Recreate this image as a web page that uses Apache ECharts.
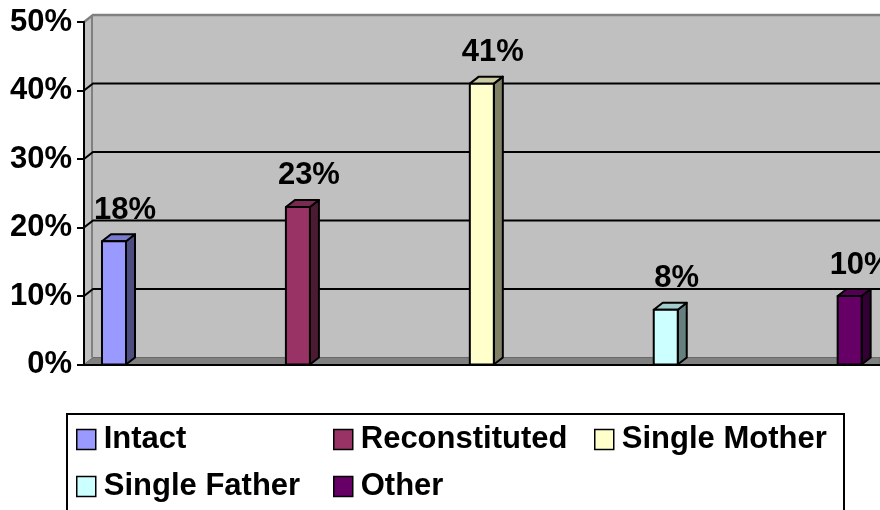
<!DOCTYPE html>
<html>
<head>
<meta charset="utf-8">
<script src="https://cdn.jsdelivr.net/npm/echarts@6/dist/echarts.min.js"></script>
<style>
html,body{margin:0;padding:0;background:#fff;}
#chart{width:880px;height:510px;}
</style>
</head>
<body>
<div id="chart"></div>
<script>
// ---- data ----
const categories = ['Intact', 'Reconstituted', 'Single Mother', 'Single Father', 'Other'];
const values = [18, 23, 41, 8, 10];
const yTicks = [0, 10, 20, 30, 40, 50];

// ---- styles ----
const FONT = '"Liberation Sans", Arial, Helvetica, sans-serif';
const FS = 31;
const frontColors = ['#9999FF', '#993366', '#FFFFCC', '#CCFFFF', '#660066'];
const sideColors  = ['#4D4D80', '#4D1A33', '#808066', '#668080', '#330033'];
const topColors   = ['#7A7ACC', '#7A2952', '#CCCCA3', '#A3CCCC', '#520052'];
const DX = 9, DY = 7, HW = 12;

const chart = echarts.init(document.getElementById('chart'));

function wallItem(params, api) {
  const v = api.value(1);
  const cs = params.coordSys;
  const right = cs.x + cs.width;
  const p = api.coord([api.value(0), v]);
  const x0 = cs.x;
  const children = [];
  const maxV = yTicks[yTicks.length - 1];
  if (v === maxV) {
    const base = api.coord([api.value(0), 0]);
    children.push({type: 'polygon', shape: {points: [[x0, p[1]], [x0 + DX, p[1] - DY], [right, p[1] - DY], [right, base[1]], [x0, base[1]]]},
      style: {fill: '#C0C0C0'}});
    children.push({type: 'polyline', shape: {points: [[x0, p[1]], [x0 + DX, p[1] - DY], [right, p[1] - DY]]},
      style: {stroke: '#808080', lineWidth: 2.5, fill: null}});
    children.push({type: 'line', shape: {x1: x0 + DX - 1, y1: p[1] - DY, x2: x0 + DX - 1, y2: base[1] - DY},
      style: {stroke: '#808080', lineWidth: 2}});
  } else if (v === 0) {
    children.push({type: 'polygon', shape: {points: [[x0, p[1]], [x0 + DX, p[1] - DY], [right, p[1] - DY], [right, p[1]]]},
      style: {fill: '#808080', stroke: '#6a6a6a', lineWidth: 1}});
  } else {
    children.push({type: 'polyline', shape: {points: [[x0, p[1]], [x0 + DX, p[1] - DY], [right, p[1] - DY]]},
      style: {stroke: '#000', lineWidth: 2, fill: null}});
  }
  return {type: 'group', children: children};
}

function barItem(idx) {
  return function (params, api) {
    const x = api.value(0), v = api.value(1);
    const top = api.coord([x, v]);
    const base = api.coord([x, 0]);
    const L = top[0] - HW, R = top[0] + HW, T = top[1], B = base[1];
    const bs = {stroke: '#000', lineWidth: 2, lineJoin: 'round'};
    return {type: 'group', children: [
      {type: 'polygon', shape: {points: [[R, T], [R + DX, T - DY], [R + DX, B - DY], [R, B]]},
        style: Object.assign({fill: sideColors[idx]}, bs)},
      {type: 'polygon', shape: {points: [[L, T], [L + DX, T - DY], [R + DX, T - DY], [R, T]]},
        style: Object.assign({fill: topColors[idx]}, bs)},
      {type: 'rect', shape: {x: L, y: T, width: 2 * HW, height: B - T},
        style: Object.assign({fill: frontColors[idx]}, bs)},
      {type: 'text', style: {text: v + '%', x: top[0] + 11, y: T - 31, align: 'center', verticalAlign: 'middle',
        font: 'bold ' + FS + 'px ' + FONT, fill: '#000'}}
    ]};
  };
}

const series = [{
  type: 'custom',
  name: '_wall',
  z: 1,
  silent: true,
  clip: false,
  data: yTicks.slice().reverse().map(v => [0, v]),
  renderItem: wallItem
}];
categories.forEach((c, i) => {
  series.push({
    type: 'custom',
    name: c,
    z: 3,
    clip: false,
    itemStyle: {color: frontColors[i]},
    data: [[i, values[i]]],
    renderItem: barItem(i)
  });
});

const legendPos = [
  {left: 76, top: 424}, {left: 333, top: 424}, {left: 594, top: 424},
  {left: 76, top: 471}, {left: 333, top: 471}
];
const legends = categories.map((c, i) => ({
  data: [{name: c, itemStyle: {color: frontColors[i], borderColor: '#000', borderWidth: 1.5}}],
  left: legendPos[i].left,
  top: legendPos[i].top,
  padding: 0,
  icon: 'rect',
  itemWidth: 19,
  itemHeight: 20,
  selectedMode: false,
  textStyle: {fontSize: FS, fontWeight: 'bold', fontFamily: FONT, color: '#000', lineHeight: 31, padding: [0, 0, 0, 3]}
}));

chart.setOption({
  animation: false,
  backgroundColor: '#fff',
  grid: {left: 84, right: 0, top: 22, bottom: 145.5, containLabel: false},
  xAxis: {
    type: 'value', min: -0.1631, max: 4.165, z: 10,
    axisLine: {show: true, onZero: false, lineStyle: {color: '#000', width: 2}},
    axisTick: {show: false}, axisLabel: {show: false}, splitLine: {show: false}
  },
  yAxis: {
    type: 'value', min: 0, max: 50, interval: 10, z: 10,
    axisLine: {show: true, onZero: false, lineStyle: {color: '#000', width: 2}},
    axisTick: {show: true, length: 7, lineStyle: {color: '#000', width: 2}},
    axisLabel: {formatter: '{value}%', fontSize: FS, fontWeight: 'bold', fontFamily: FONT, color: '#000', margin: 12},
    splitLine: {show: false}
  },
  legend: legends,
  graphic: [{
    type: 'rect', left: 66, top: 413, z: 0,
    shape: {width: 777, height: 110},
    style: {fill: '#fff', stroke: '#000', lineWidth: 2}
  }],
  series: series
});
</script>
</body>
</html>
